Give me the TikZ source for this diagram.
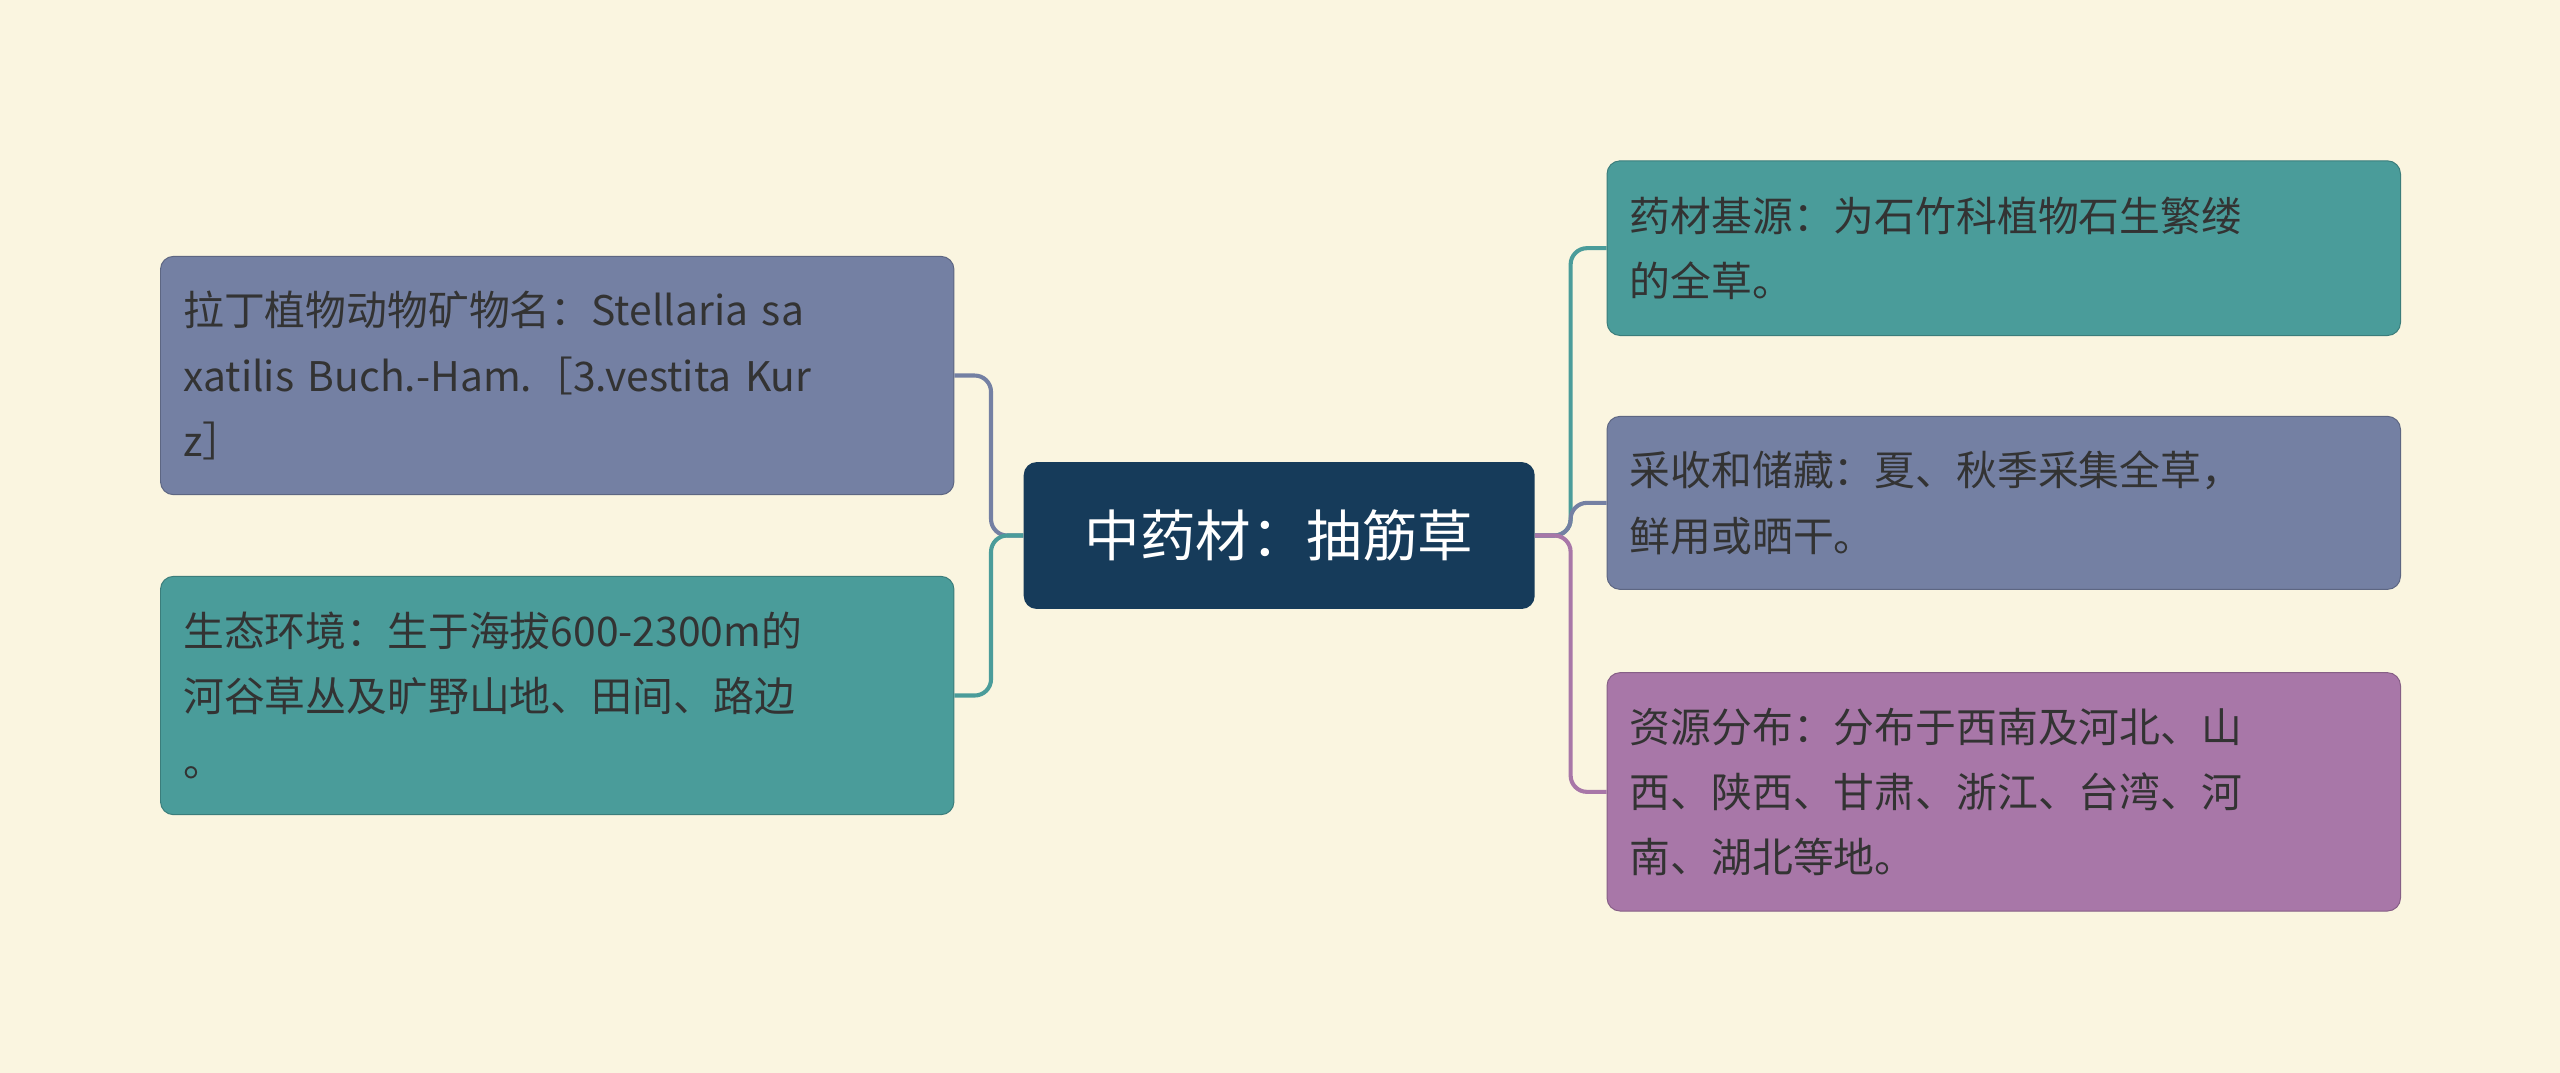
\documentclass[tikz,border=0pt]{standalone}
\usepackage{fontspec}
\setmainfont{Noto Sans CJK SC}
\definecolor{bg}{HTML}{FAF5E0}
\definecolor{cen}{HTML}{163B5A}
\definecolor{teal}{HTML}{4A9C9A}
\definecolor{slate}{HTML}{7480A3}
\definecolor{purp}{HTML}{A877A8}
\definecolor{txt}{HTML}{333333}
\tikzset{x=1pt,y=-1pt,
 leaf/.style={rounded corners=8pt,text width=458pt,inner sep=14pt,minimum width=486pt,align=left,text=txt,font=\fontsize{25}{40}\selectfont,anchor=west,draw=#1!80!black,line width=0.6pt,fill=#1},
 conn/.style={line width=2.5pt,draw=#1,rounded corners=10pt}}
\begin{document}
\begin{tikzpicture}
\fill[bg] (0,0) rectangle (1568,657);
\useasboundingbox (0,0) rectangle (1568,657);
\node[rounded corners=8pt,fill=cen,text=white,minimum width=313pt,minimum height=90pt,font=\fontsize{34}{40}\selectfont] (c) at (783.5,328) {中药材：抽筋草};
\node[leaf=slate,minimum height=146pt] (l1) at (98,230) {拉丁植物动物矿物名：Stellaria sa\\xatilis Buch.-Ham.［3.vestita Kur\\z］};
\node[leaf=teal,minimum height=146pt] (l2) at (98,426) {生态环境：生于海拔600-2300m的\\河谷草丛及旷野山地、田间、路边\\。};
\node[leaf=teal,minimum height=107pt] (r1) at (984,152) {药材基源：为石竹科植物石生繁缕\\的全草。};
\node[leaf=slate,minimum height=106pt] (r2) at (984,308) {采收和储藏：夏、秋季采集全草，\\鲜用或晒干。};
\node[leaf=purp,minimum height=146pt] (r3) at (984,485) {资源分布：分布于西南及河北、山\\西、陕西、甘肃、浙江、台湾、河\\南、湖北等地。};
\draw[conn=slate] (c.west) -- (607,328) |- (l1.east);
\draw[conn=teal] (c.west) -- (607,328) |- (l2.east);
\draw[conn=teal] (c.east) -- (962,328) |- (r1.west);
\draw[conn=slate] (c.east) -- (962,328) |- (r2.west);
\draw[conn=purp] (c.east) -- (962,328) |- (r3.west);
\end{tikzpicture}
\end{document}
